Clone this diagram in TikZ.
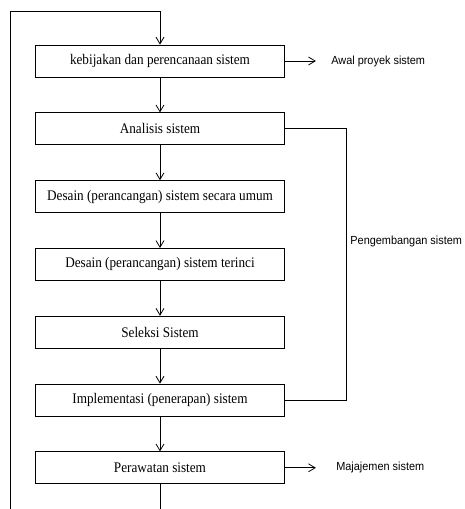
\documentclass[tikz,border=0pt]{standalone}
\usepackage{fontspec}
\setmainfont[FakeStretch=0.9]{Liberation Serif}
\newfontfamily\labelfont[FakeStretch=0.93]{Liberation Sans}
\usetikzlibrary{arrows.meta, positioning}

\begin{document}
\begin{tikzpicture}[x=0.75pt, y=-0.75pt, line width=0.6pt,
        tahap/.style={draw, minimum width=186.75pt, minimum height=24pt,
                      inner sep=0pt, font=\fontsize{11}{13}\selectfont},
        ket/.style={anchor=west, inner sep=0pt, font=\labelfont\fontsize{8.8}{10}\selectfont},
        panah/.style={-{Straight Barb[length=5pt, width=6pt]}},
        node distance=26.25pt]
        \useasboundingbox (0,0) rectangle (464,509);

        % tahapan siklus hidup sistem
        \node[tahap] (kebijakan) at (160,61) {kebijakan dan perencanaan sistem};
        \node[tahap, below=of kebijakan] (analisis) {Analisis sistem};
        \node[tahap, below=of analisis] (umum) {Desain (perancangan) sistem secara umum};
        \node[tahap, below=of umum] (rinci) {Desain (perancangan) sistem terinci};
        \node[tahap, below=of rinci] (seleksi) {Seleksi Sistem};
        \node[tahap, below=of seleksi] (implementasi) {Implementasi (penerapan) sistem};
        \node[tahap, below=of implementasi] (perawatan) {Perawatan sistem};

        \draw[panah] (kebijakan) -- (analisis);
        \draw[panah] (analisis) -- (umum);
        \draw[panah] (umum) -- (rinci);
        \draw[panah] (rinci) -- (seleksi);
        \draw[panah] (seleksi) -- (implementasi);
        \draw[panah] (implementasi) -- (perawatan);

        % keterangan di kanan
        \node[ket, right=34.5pt of kebijakan] (awal) {Awal proyek sistem};
        \node[ket, right=38.25pt of perawatan] (manajemen) {Majajemen sistem};
        \draw[panah, shorten >=11.25pt] (kebijakan) -- (awal);
        \draw[panah, shorten >=15pt] (perawatan) -- (manajemen);

        \node[ket] (pengembangan) at (350,241) {Pengembangan sistem};
        \draw (analisis.east) -- ++(45.75pt,0) |- (implementasi.east);

        % umpan balik
        \coordinate (kiriBawah) at (10,509);
        \coordinate (kiriAtas) at (10,11);
        \draw (perawatan) -- (perawatan |- kiriBawah);
        \draw[panah] (kiriBawah) -- (kiriAtas) -| (kebijakan.north);
\end{tikzpicture}
\end{document}
